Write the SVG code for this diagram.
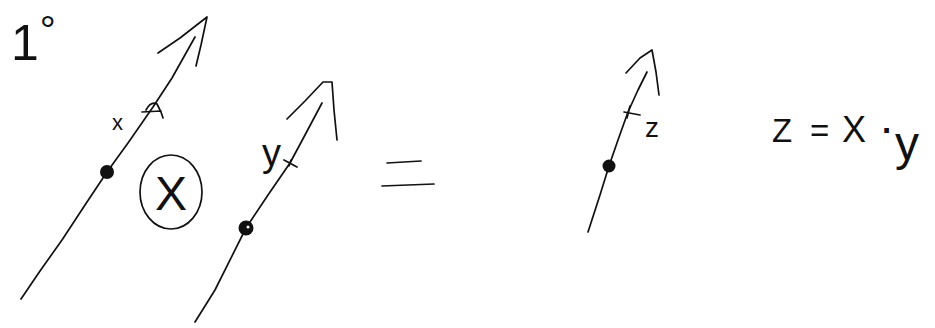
<svg xmlns="http://www.w3.org/2000/svg" width="935" height="328" viewBox="0 0 935 328">
<style>
.s{fill:none;stroke:#111;stroke-width:1.7;stroke-linecap:round;stroke-linejoin:round}
.d{fill:#111}
.t{font-family:"Liberation Sans","DejaVu Sans",sans-serif;fill:#111}
</style>
<rect width="935" height="328" fill="#fff"/>
<g id="title">
<text class="t" x="11" y="60" font-size="50">1<tspan font-size="40" dx="1" dy="-16">°</tspan></text>
</g>
<g id="arrow-x">
<path class="s" d="M21,299 L40,271 L62,240 L85,205 L107,172 L128,143 L153,107 L172,78 L195,37"/>
<path class="s" d="M158,53 L180,38 L207,17 L201,45 L196,66"/>
<circle class="d" cx="107" cy="172" r="7"/>
<path class="s" d="M142,112 L161,111 M146,110 Q151,101 157,104 L160,110 M161,112 L163,118"/>
<text class="t" x="112" y="130" font-size="22">x</text>
</g>
<g id="operator">
<ellipse class="s" cx="171" cy="192" rx="31" ry="37"/>
<text class="t" x="171" y="210" font-size="48" text-anchor="middle">X</text>
</g>
<g id="arrow-y">
<path class="s" d="M195,322 L215,290 L246,228 L268,195 L290,163 L305,135 L322,103"/>
<path class="s" d="M287,119 L305,101 L323,82 L332,82 L334,110 L337,140"/>
<circle class="d" cx="246" cy="228" r="7.5"/>
<circle cx="248" cy="227" r="1.5" fill="#fff"/>
<path class="s" d="M284,160 L297,167 M289,166 L291,160"/>
<text class="t" x="262" y="166" font-size="38">y</text>
</g>
<g id="equals">
<path class="s" d="M387,163 L421,161 M382,186 L408,185 L434,184"/>
</g>
<g id="arrow-z">
<path class="s" d="M588,232 L600,195 L609,166 L618,140 L628,112 L638,90 L647,72"/>
<path class="s" d="M626,73 L640,58 L652,50 L656,72 L659,95"/>
<circle class="d" cx="609" cy="166" r="6.5"/>
<path class="s" d="M624,112 L640,115 M630,106 L627,118"/>
<text class="t" x="645" y="137" font-size="28">z</text>
</g>
<g id="formula">
<text class="t" font-size="33" y="142"><tspan x="772">Z</tspan><tspan x="810">=</tspan><tspan x="842" font-size="36">X</tspan><tspan x="882" font-weight="bold">·</tspan><tspan x="895" y="160" font-size="48">y</tspan></text>
</g>
<g id="connectors"/>
</svg>
